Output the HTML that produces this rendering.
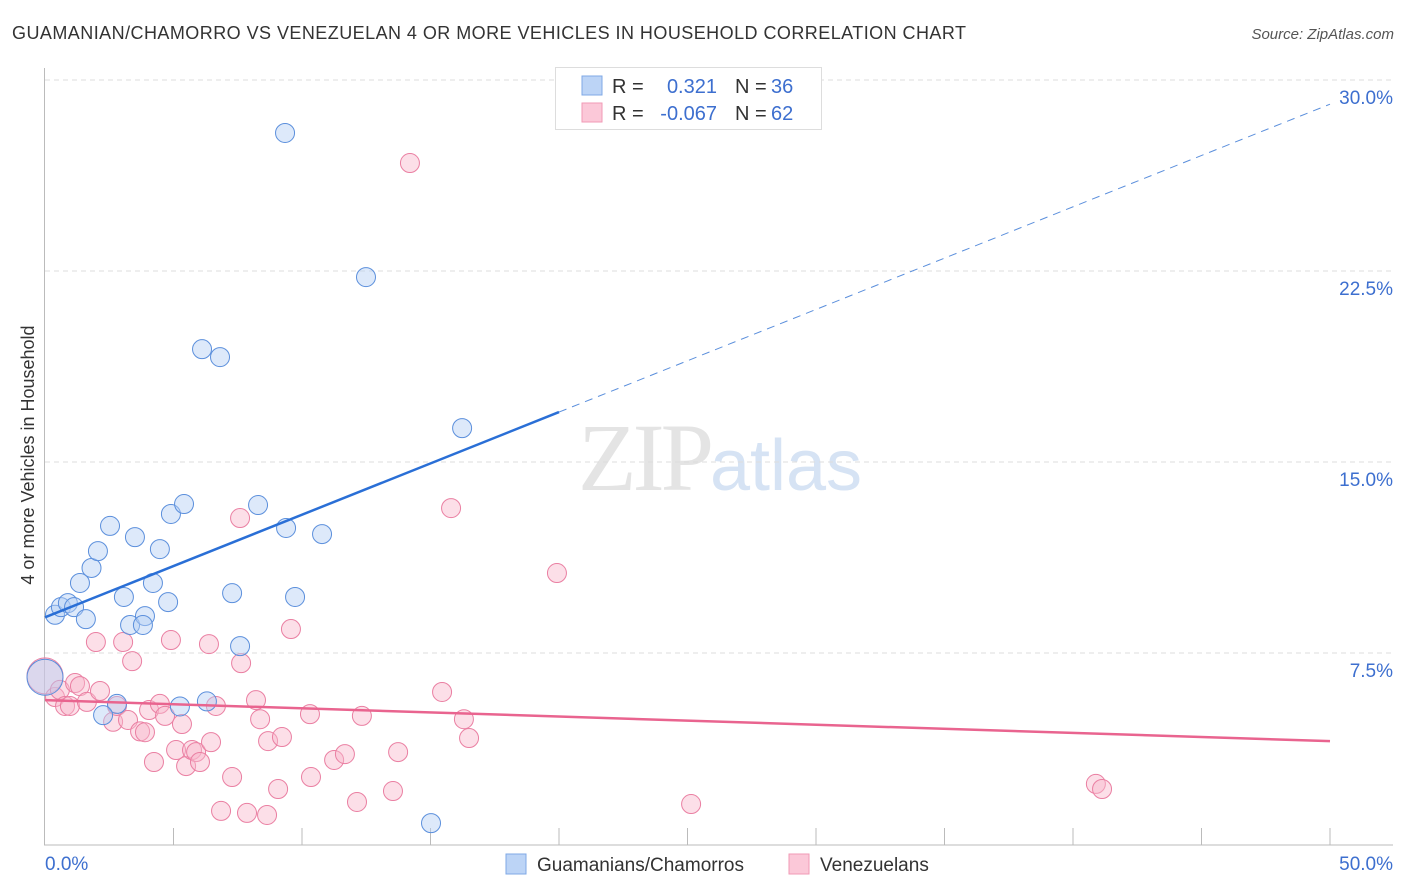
<!DOCTYPE html>
<html><head><meta charset="utf-8">
<style>
body{margin:0;background:#fff;font-family:"Liberation Sans",sans-serif;}
svg{display:block}
</style></head>
<body>
<svg id="chart" width="1406" height="892" xmlns="http://www.w3.org/2000/svg">
<text x="12" y="39" font-size="18" fill="#333" textLength="954">GUAMANIAN/CHAMORRO VS VENEZUELAN 4 OR MORE VEHICLES IN HOUSEHOLD CORRELATION CHART</text>
<text x="1394" y="39" font-size="15" fill="#555" text-anchor="end" font-style="italic">Source: ZipAtlas.com</text>
<text x="720" y="490" font-size="96" text-anchor="middle" font-family="Liberation Serif" fill="#e4e4e4" letter-spacing="-4">ZIP<tspan font-family="Liberation Sans" fill="#d6e3f4" font-size="72" letter-spacing="0">atlas</tspan></text>
<g id="grid"></g>
<g id="axes"></g>
<g id="pts"></g>
<g id="trend"></g>
<text transform="translate(34,455) rotate(-90)" font-size="18" fill="#333" text-anchor="middle">4 or more Vehicles in Household</text>
<g>
<rect x="555.5" y="67.5" width="266" height="62" fill="#fff" stroke="#ddd"/>
<rect x="582" y="76" width="20" height="19" fill="#bcd4f6" stroke="#7fa8e6"/>
<rect x="582" y="103" width="20" height="19" fill="#fbc8d8" stroke="#f09ab6"/>
<text x="612" y="93" font-size="20" fill="#333">R =</text>
<text x="717" y="93" font-size="20" fill="#3d6fcf" text-anchor="end">0.321</text>
<text x="735" y="93" font-size="20" fill="#333">N =</text>
<text x="771" y="93" font-size="20" fill="#3d6fcf">36</text>
<text x="612" y="120" font-size="20" fill="#333">R =</text>
<text x="717" y="120" font-size="20" fill="#3d6fcf" text-anchor="end">-0.067</text>
<text x="735" y="120" font-size="20" fill="#333">N =</text>
<text x="771" y="120" font-size="20" fill="#3d6fcf">62</text>
</g>
<g>
<rect x="506" y="854" width="20" height="20" fill="#bcd4f6" stroke="#7fa8e6"/>
<text x="537" y="871" font-size="19" fill="#333">Guamanians/Chamorros</text>
<rect x="789" y="854" width="20" height="20" fill="#fbc8d8" stroke="#f09ab6"/>
<text x="820" y="871" font-size="19" fill="#333">Venezuelans</text>
</g>
</svg>
<script>
const yTicks=[7.5,15,22.5,30];
const yTickLabels=["7.5%","15.0%","22.5%","30.0%"];
const xTickLabels=["0.0%","50.0%"];
const blueX=[0,0.39,0.62,0.89,1.13,1.59,1.36,1.81,2.06,2.53,3.07,3.5,3.31,3.89,3.81,4.2,4.47,4.79,4.9,5.41,5.25,6.11,6.81,6.3,7.28,7.59,8.29,9.34,9.38,9.73,10.78,12.49,16.23,15.02,2.8,2.26];
const blueY=[6.55,9.0,9.3,9.46,9.3,8.83,10.25,10.84,11.5,12.49,9.7,12.05,8.6,8.95,8.6,10.25,11.58,9.5,12.96,13.35,5.4,19.43,19.12,5.6,9.85,7.77,13.31,27.92,12.41,9.7,12.17,22.26,16.33,0.82,5.5,5.06];
const pinkX=[0,0.39,0.58,0.78,0.97,1.17,1.36,1.63,2.14,1.98,2.65,2.8,3.04,3.23,3.39,3.7,3.89,4.05,4.24,4.47,4.67,4.9,5.1,5.33,5.49,5.72,5.88,6.03,6.38,6.46,6.65,6.85,7.28,7.63,7.59,7.86,8.21,8.37,8.64,8.68,9.07,9.22,9.57,10.31,10.35,11.25,11.67,12.14,12.33,13.54,13.74,14.2,15.45,15.8,16.3,16.5,19.92,25.14,40.89,41.13];
const pinkY=[6.6,5.77,6.05,5.42,5.42,6.32,6.2,5.58,6.01,7.93,4.8,5.42,7.93,4.87,7.18,4.42,4.39,5.26,3.22,5.5,5.03,8.01,3.69,4.71,3.06,3.69,3.61,3.22,7.85,4.0,5.42,1.3,2.63,7.1,12.8,1.22,5.65,4.9,1.14,4.04,2.16,4.2,8.44,5.1,2.63,3.3,3.53,1.65,5.03,2.08,3.61,26.74,5.97,13.19,4.9,4.16,10.64,1.57,2.36,2.16];
const blueTrend=[8.9,29.05];
const pinkTrend=[5.65,4.04];
const NS="http://www.w3.org/2000/svg";
const X0=45,X1=1330,Y0=844,YT=80;
function xs(v){return X0+(X1-X0)*v/50;}
function ys(v){return Y0-(Y0-YT)*v/30;}
function mk(tag,attrs,parent){const e=document.createElementNS(NS,tag);for(const k in attrs)e.setAttribute(k,attrs[k]);parent.appendChild(e);return e;}
const grid=document.getElementById('grid'),axes=document.getElementById('axes'),pts=document.getElementById('pts'),trend=document.getElementById('trend');
yTicks.forEach((t,i)=>{
 const l=mk('line',{x1:45,x2:1393,y1:ys(t),y2:ys(t),stroke:'#ddd','stroke-dasharray':'5,4'},grid);
 
 
 const tx=mk('text',{x:1393,y:ys(t)+24,'font-size':19,fill:'#3d6fcf','text-anchor':'end'},axes);
 tx.textContent=yTickLabels[i];
 
 
});
mk('line',{x1:44.5,x2:44.5,y1:68,y2:845,stroke:'#bbb'},axes);
mk('line',{x1:44,x2:1393,y1:845,y2:845,stroke:'#bbb'},axes);
for(let i=1;i<=10;i++){const l=mk('line',{x1:xs(i*5),x2:xs(i*5),y1:828,y2:845,stroke:'#bbb'},axes);
 
 }
const xl0=mk('text',{x:45,y:870,'font-size':19,fill:'#3d6fcf'},axes);xl0.textContent=xTickLabels[0];


const xl1=mk('text',{x:1393,y:870,'font-size':19,fill:'#3d6fcf','text-anchor':'end'},axes);xl1.textContent=xTickLabels[1];


function drawPts(X,Y,fill,stroke,name){X.forEach((x,i)=>{const r=i===0?18:9.5;
 const c=mk('circle',{cx:xs(x),cy:ys(Y[i]),r:r,fill:fill,'fill-opacity':0.45,stroke:stroke,'stroke-width':1},pts);
 
 });}
drawPts(pinkX,pinkY,'#f8b8cc','#ea7fa2','venezuelan-point');
drawPts(blueX,blueY,'#b3cef3','#5b8fdc','guamanian-point');
const mid=blueTrend[0]+(blueTrend[1]-blueTrend[0])*20/50;
const bl=mk('line',{x1:xs(0),y1:ys(blueTrend[0]),x2:xs(20),y2:ys(mid),stroke:'#2a6fd6','stroke-width':2.5},trend);


const bd=mk('line',{x1:xs(20),y1:ys(mid),x2:xs(50),y2:ys(blueTrend[1]),stroke:'#5b8fdc','stroke-width':1,'stroke-dasharray':'8,6'},trend);


const pl=mk('line',{x1:xs(0),y1:ys(pinkTrend[0]),x2:xs(50),y2:ys(pinkTrend[1]),stroke:'#e9648f','stroke-width':2.5},trend);


</script>
</body></html>
